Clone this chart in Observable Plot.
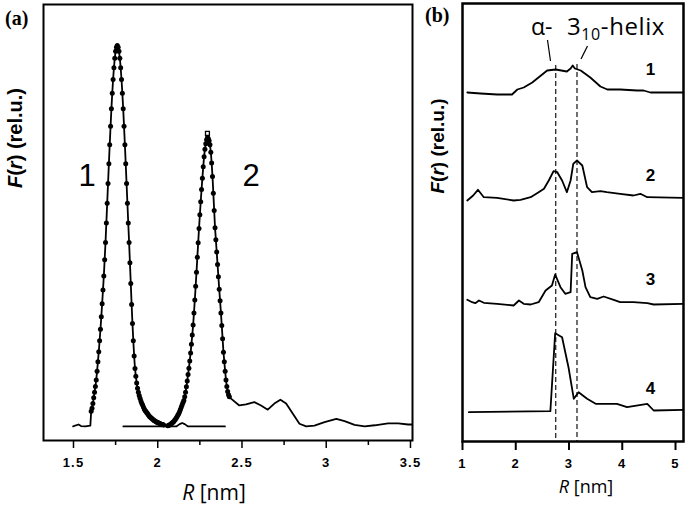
<!DOCTYPE html>
<html><head><meta charset="utf-8">
<script src="https://cdn.jsdelivr.net/npm/d3@7"></script>
<script src="https://cdn.jsdelivr.net/npm/@observablehq/plot@0.6"></script>
<style>
body{margin:0;background:#fff;}
#wrap{position:relative;width:685px;height:506px;overflow:hidden;background:#fff;}
#pa{position:absolute;left:0;top:0;}
#pb{position:absolute;left:420px;top:0;}
</style></head><body><div id="wrap"><div id="pa"></div><div id="pb"></div></div>
<script>
// ---------- Panel (a) data ----------
const fitStep = 0.005;
const fit1Start = 1.605;
const fit1Values = [0.040,0.048,0.060,0.075,0.090,0.105,0.122,0.145,0.170,0.196,0.225,0.255,0.288,0.322,0.358,0.395,0.438,0.483,0.534,0.586,0.638,0.690,0.740,0.788,0.834,0.875,0.911,0.942,0.967,0.985,0.996,1.000,
0.996,0.985,0.967,0.942,0.911,0.875,0.834,0.788,0.740,0.690,0.638,0.586,0.534,0.483,0.430,0.375,0.320,0.270,0.225,0.185,0.152,0.132,0.114,0.100,0.090,0.081,0.074,0.067,0.061,0.056,0.051,0.046,0.042,0.039,0.036,0.033,0.030,0.027,0.025,0.023,0.021,0.019,0.017,0.015,0.014,0.012,0.011,0.010,0.009,0.008,0.007,0.006,0.005,0.005,0.004];
const fit2Start = 2.060;
const fit2Values = [0.002,0.003,0.004,0.005,0.007,0.009,0.011,0.013,0.016,0.019,0.022,0.026,0.030,0.034,0.039,0.045,0.051,0.057,0.063,0.068,0.078,0.090,0.104,0.119,0.136,0.153,0.172,0.193,0.216,0.240,0.266,0.298,0.332,0.368,0.405,0.444,0.482,0.520,0.556,0.590,0.622,0.652,0.682,0.708,0.728,0.742,0.753,0.759,
0.756,0.750,0.740,0.720,0.692,0.656,0.612,0.567,0.522,0.490,0.458,0.425,0.393,0.360,0.330,0.298,0.265,0.230,0.195,0.170,0.145,0.122,0.105,0.092,0.083,0.078];
const leftFlatR = [1.498,1.515,1.530,1.545,1.570,1.600];
const leftFlatV = [0.000,0.003,0.005,0.001,0.000,0.002];
const gapR = [2.045];
const gapV = [0.003];
const tailR = [2.435,2.484,2.524,2.573,2.613,2.653,2.692,2.728,2.762,2.802,2.841,2.881,2.930,2.990,3.060,3.109,3.168,3.228,3.288,3.367,3.427,3.486,3.536];
const tailV = [0.073,0.055,0.058,0.064,0.055,0.044,0.060,0.070,0.060,0.033,0.007,0.000,0.002,0.011,0.020,0.014,0.004,0.000,0.003,0.008,0.008,0.005,0.005];
const baseR = [1.796,2.110,2.130,2.145,2.160,2.180,2.399];
const baseV = [0,0,0.006,0.009,0.006,0,0];
const ticksA = [1.5,2,2.5,3,3.5];
const minorTicksA = [1.75,2.25,2.75,3.25];
const peakLabelsA = ["1","2"];

// ---------- Panel (b) data ----------
const curveNames = ["1","2","3","4"];
const offsets = [349,243,139,30];
const c1R = [1.09,1.34,1.65,1.93,2.03,2.15,2.31,2.59,2.75,2.96,3.03,3.07,3.11,3.22,3.40,3.59,3.72,3.96,4.28,4.40,4.53,5.15];
const c1V = [0,-1,-2,-2,3,5,10,22,23,21,24,27,24,22,15,6,3,3,2,2,0,0];
const c2R = [1.09,1.20,1.29,1.40,1.65,1.96,2.09,2.28,2.43,2.53,2.62,2.71,2.78,2.87,2.96,3.03,3.08,3.15,3.25,3.34,3.43,3.59,3.71,3.96,4.21,4.34,4.47,5.15];
const c2V = [-2,3,8.7,1.3,0.7,-2,-1.3,1.3,6.3,9.7,18,27.3,26.3,18,6.3,18,34.7,38,33,11.3,6.3,7.3,6.3,4.7,3,4.7,1.3,0.7];
const c3R = [1.09,1.18,1.24,1.31,1.40,1.65,1.96,2.06,2.15,2.28,2.43,2.56,2.68,2.74,2.84,2.93,3.03,3.06,3.15,3.25,3.31,3.40,3.53,3.65,3.84,3.96,4.21,4.47,4.59,5.15];
const c3V = [2.7,0.3,-0.7,2,-0.3,-1.3,-3,2,-1.3,-2,0.3,12,17,28,15.3,8.7,10.3,48.7,50.3,32,15.3,5.3,3.7,6,2.7,0.3,0.3,-0.7,-2,-1.3];
const c4R = [1.12,2.65,2.74,2.87,2.99,3.09,3.18,3.34,3.50,3.90,4.09,4.47,4.59,5.15];
const c4V = [-0.7,0.3,78.3,74.3,44.3,12.7,19.3,12.7,7.7,7.7,4.3,7.7,1,1.7];
const helixR = [2.75,3.15];
const helixNames = ["α-","3","10","-helix"];
const ticksB = [1,2,3,4,5];

// ---------- build tables ----------
const fit1 = fit1Values.map((v,i)=>({R: fit1Start + i*fitStep, v}));
const fit2 = fit2Values.map((v,i)=>({R: fit2Start + i*fitStep, v}));
const zip = (rs, vs) => rs.map((R,i)=>({R, v: vs[i]}));
const expLine = [...zip(leftFlatR,leftFlatV), ...fit1, ...zip(gapR,gapV), ...fit2, ...zip(tailR,tailV)];
const baseLine = zip(baseR, baseV);
const peak2Top = [fit2.reduce((a,b)=> b.v > a.v ? b : a)];

const curveSets = [[c1R,c1V],[c2R,c2V],[c3R,c3V],[c4R,c4V]];
const curves = curveSets.flatMap(([rs,vs],k)=>rs.map((R,i)=>({curve: curveNames[k], R, y: vs[i] + offsets[k]})));
const c1 = zip(c1R,c1V);
const guideTop = helixR.map(R => {
  const near = c1.reduce((a,b)=> Math.abs(b.R-R) < Math.abs(a.R-R) ? b : a);
  return {R, top: near.v + offsets[0] + 4};
});

const font = "'Liberation Sans', Arial, sans-serif";

// ---------- Panel (a) ----------
const pa = Plot.plot({
  width: 428, height: 506,
  marginLeft: 43, marginRight: 16, marginTop: 4, marginBottom: 66,
  x: {domain: [1.322, 3.512]},
  y: {domain: [-0.037, 1.108], axis: null},
  style: {fontFamily: font, fontSize: "13px", background: "transparent", color: "#000"},
  marks: [
    Plot.line(baseLine, {x: "R", y: "v", stroke: "#000", strokeWidth: 1.8}),
    Plot.line(expLine, {x: "R", y: "v", stroke: "#000", strokeWidth: 1.8, clip: true}),
    Plot.dot(fit1, {x: "R", y: "v", r: 2.5, fill: "#000", stroke: "none"}),
    Plot.dot(fit2, {x: "R", y: "v", r: 2.5, fill: "#000", stroke: "none"}),
    Plot.dot(peak2Top, {x: "R", y: "v", dy: -4, symbol: "square", r: 2.2, fill: "#fff", stroke: "#000", strokeWidth: 1.3}),
    Plot.frame({stroke: "#000", strokeWidth: 2}),
    Plot.axisX({ticks: ticksA, tickSize: 8, tickPadding: 9, tickFormat: d => String(d), label: null, fontWeight: "bold", fontSize: 13, strokeWidth: 1.5}),
    Plot.axisX({ticks: minorTicksA, tickSize: 5, tickFormat: () => "", label: null, strokeWidth: 1.5})
  ]
});
document.getElementById("pa").appendChild(pa);

// ---------- Panel (b) ----------
const pb = Plot.plot({
  width: 265, height: 506,
  marginLeft: 42, marginRight: 2, marginTop: 3, marginBottom: 65,
  x: {domain: [1, 5.15]},
  y: {domain: [0, 438], axis: null},
  style: {fontFamily: font, fontSize: "13px", background: "transparent", color: "#000"},
  marks: [
    Plot.ruleX(guideTop, {x: "R", y1: "top", y2: 0, stroke: "#333", strokeWidth: 1.4, strokeDasharray: "5,3"}),
    Plot.line(curves, {x: "R", y: "y", z: "curve", stroke: "#000", strokeWidth: 1.8, clip: true}),
    Plot.text(curveNames, {x: () => 4.53, y: (d,i) => offsets[i] + 23, text: d => d, fontWeight: "bold", fontSize: 17}),
    Plot.frame({stroke: "#000", strokeWidth: 2.5}),
    Plot.axisX({ticks: ticksB, tickSize: 9, tickPadding: 8, tickFormat: d => String(d), label: null, fontWeight: "bold", fontSize: 13, strokeWidth: 2})
  ]
});
document.getElementById("pb").appendChild(pb);

// ---------- text decorations ----------
function addText(svg, x, y, parts, attrs = {}) {
  const t = d3.select(svg).append("text").attr("x", x).attr("y", y).attr("text-anchor", "start");
  Object.entries(attrs).forEach(([k,v]) => t.attr(k, v));
  parts.forEach(p => {
    const s = t.append("tspan").text(p.t);
    if (p.i) s.attr("font-style", "italic");
    if (p.fs) s.attr("font-size", p.fs);
    if (p.dy) s.attr("dy", p.dy);
  });
  return t;
}
d3.select(pa).selectAll("g[aria-label='x-axis tick label'] text").attr("letter-spacing", 1.2);
d3.select(pb).selectAll("g[aria-label='x-axis tick label'] text").attr("letter-spacing", 1.2);

// panel a
addText(pa, 5, 25, [{t: "(a)"}], {"font-family": "'Liberation Serif', serif", "font-weight": "bold", "font-size": 20});
addText(pa, 214, 500, [{t: "R", i: true}, {t: " [nm]"}], {"text-anchor": "middle", "font-family": "'Open Sans', sans-serif", "font-size": 21});
addText(pa, 0, 0, [{t: "F", i: true}, {t: "("}, {t: "r", i: true}, {t: ") (rel.u.)"}],
  {"text-anchor": "middle", "font-weight": "bold", "font-size": 20, transform: "translate(22,138) rotate(-90)"});
addText(pa, 87, 186, [{t: peakLabelsA[0]}], {"text-anchor": "middle", "font-size": 31});
addText(pa, 251, 186, [{t: peakLabelsA[1]}], {"text-anchor": "middle", "font-size": 31});

// panel b
addText(pb, 5, 22, [{t: "(b)"}], {"font-family": "'Liberation Serif', serif", "font-weight": "bold", "font-size": 20});
addText(pb, 166, 493, [{t: "R", i: true}, {t: " [nm]"}], {"text-anchor": "middle", "font-family": "'Open Sans', sans-serif", "font-size": 18});
addText(pb, 0, 0, [{t: "F", i: true}, {t: "("}, {t: "r", i: true}, {t: ") (rel.u.)"}],
  {"text-anchor": "middle", "font-weight": "bold", "font-size": 19, transform: "translate(24,146) rotate(-90)"});
addText(pb, 111, 35, [{t: helixNames[0]}], {"font-family": "'Open Sans', sans-serif", "font-size": 23});
addText(pb, 147, 35, [{t: helixNames[1]}, {t: helixNames[2], fs: 16, dy: 5}, {t: helixNames[3], dy: -5}], {"font-family": "'Open Sans', sans-serif", "font-size": 24, "letter-spacing": 0.6});
const g = d3.select(pb).append("g").attr("stroke", "#000").attr("stroke-width", 1.2);
g.append("line").attr("x1", 127.5).attr("y1", 40).attr("x2", 130.5).attr("y2", 61);
g.append("line").attr("x1", 167.5).attr("y1", 46).attr("x2", 161).attr("y2", 59);
</script>
</body></html>
